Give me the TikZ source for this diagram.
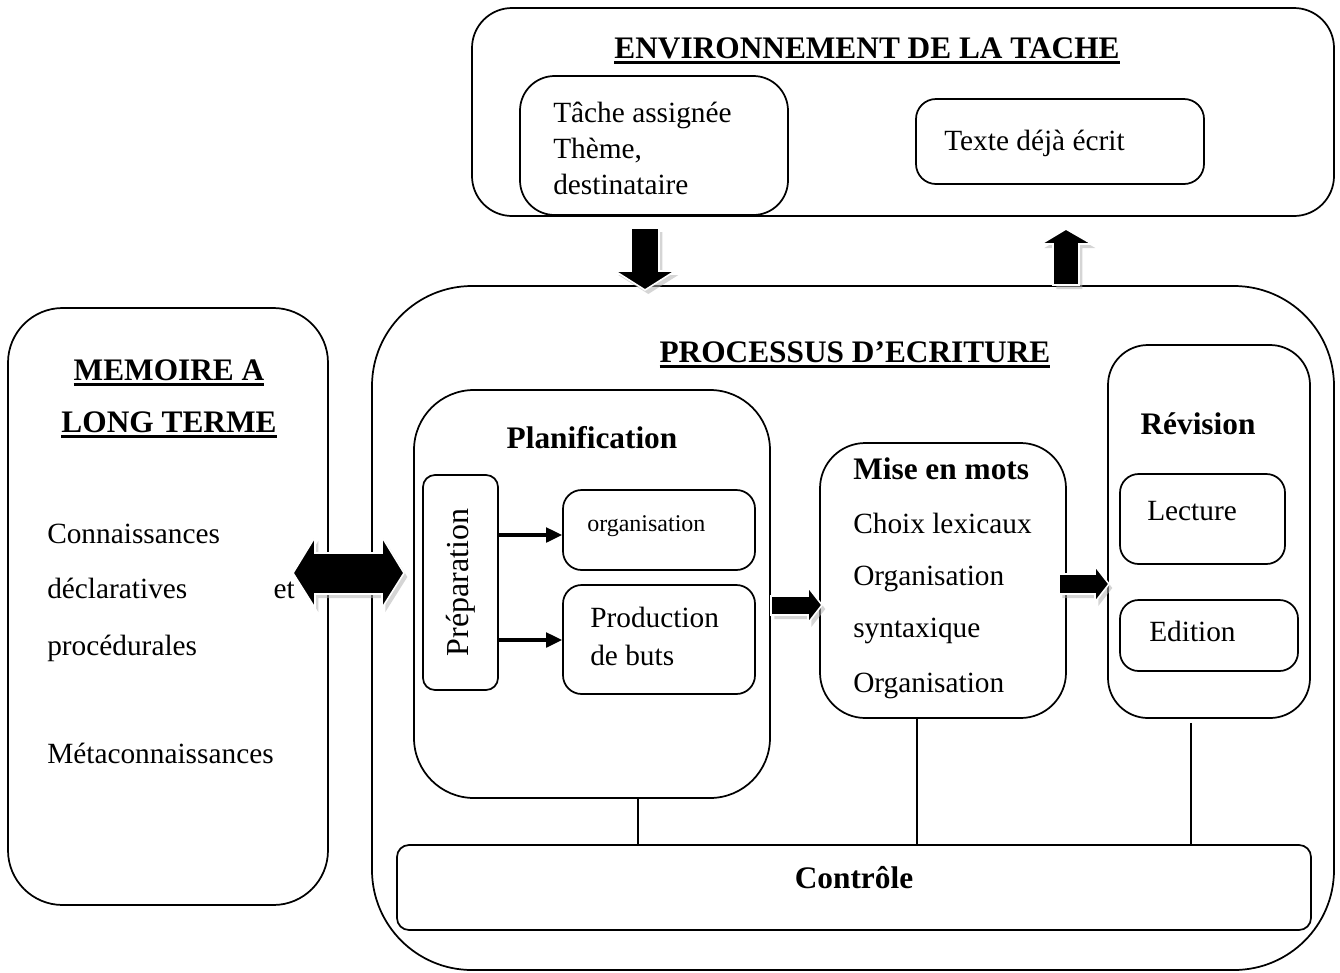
\documentclass[tikz,border=0pt]{standalone}
\usepackage{fontspec}
\setmainfont{Liberation Serif}
\usetikzlibrary{arrows.meta,shadows,fit}
\newcommand{\myul}[1]{\leavevmode\setbox0=\hbox{#1}\rlap{\rule[-4.8pt]{\wd0}{2.5pt}}\box0}
\begin{document}
\begin{tikzpicture}[x=0.75pt,y=-0.75pt,
  box/.style={draw, line width=1.3pt, rounded corners=#1, inner sep=0pt},
  box/.default=10pt,
  txt/.style={font=\fontsize{22}{26}\selectfont, inner sep=0pt, anchor=base west},
  ttl/.style={font=\bfseries\fontsize{23.5}{28}\selectfont, inner sep=0pt, anchor=base},
  blk/.style={fill=black, draw=white, line width=1.2pt,
    drop shadow={shadow xshift=2.5pt, shadow yshift=-3pt, fill=black!30, opacity=0.55}},
  link/.style={line width=0.9pt},
  parr/.style={line width=2.3pt, -{Triangle[length=12pt,width=11pt]}}
]
\useasboundingbox (0,0) rectangle (1340,972);

% boxes
\node (env) [box=30pt, fit={(472,8) (1334,216)}] {};
\node (tache) [box=26pt, fit={(520,76) (788,215)}] {};
\node (texte) [box=15pt, fit={(916,99) (1204,184)}] {};
\node (mem) [box=41pt, fit={(8,308) (328,905)}] {};
\node (proc) [box=75pt, fit={(372,286) (1334,970)}] {};
\node (planif) [box=45pt, fit={(414,390) (770,798)}] {};
\node (prep) [box=9pt, fit={(423,475) (498,690)}] {};
\node (org) [box=14pt, fit={(563,490) (755,570)}] {};
\node (prod) [box=14pt, fit={(563,585) (755,694)}] {};
\node (mise) [box=34pt, fit={(820,443) (1066,718)}] {};
\node (rev) [box=30pt, fit={(1108,345) (1310,718)}] {};
\node (lect) [box=14pt, fit={(1120,474) (1285,564)}] {};
\node (edit) [box=14pt, fit={(1120,600) (1298,671)}] {};
\node (ctrl) [box=9pt, fit={(397,845) (1311,930)}] {};

% texts
\node[ttl] (envt) at (867,58) {\myul{ENVIRONNEMENT DE LA TACHE}};
\node[txt] (t1) at (553,122) {Tâche assignée};
\node[txt] (t2) at (553,158) {Thème,};
\node[txt] (t3) at (553,194) {destinataire};
\node[txt] (t4) at (944,150) {Texte déjà écrit};

\node[ttl] (memt1) at (169,380) {\myul{MEMOIRE A}};
\node[ttl] (memt2) at (169,432) {\myul{LONG TERME}};
\node[txt] (m1) at (47,543) {Connaissances};
\node[txt] (m2) at (47,598) {déclaratives};
\node[txt, anchor=base east] (m2b) at (295,598) {et};
\node[txt] (m3) at (47,655) {procédurales};
\node[txt] (m4) at (47,763) {Métaconnaissances};

\node[ttl] (proct) at (855,362) {\myul{PROCESSUS D’ECRITURE}};
\node[ttl] (planift) at (592,448) {Planification};
\node[font=\fontsize{24}{28}\selectfont, rotate=90, inner sep=0pt] (prept) at (prep.center) {Préparation};
\node[txt, font=\fontsize{18}{22}\selectfont] (orgt) at (587,531) {organisation};
\node[txt] (prod1) at (590,627) {Production};
\node[txt] (prod2) at (590,665) {de buts};

\node[ttl, anchor=base west] (miset) at (853,479) {Mise en mots};
\node[txt] (mi1) at (853,533) {Choix lexicaux};
\node[txt] (mi2) at (853,585) {Organisation};
\node[txt] (mi3) at (853,637) {syntaxique};
\node[txt] (mi4) at (853,692) {Organisation};

\node[ttl] (revt) at (1198,434) {Révision};
\node[txt] (lectt) at (1147,520) {Lecture};
\node[txt] (editt) at (1149,641) {Edition};
\node[ttl] (ctrlt) at (854,888) {Contrôle};

% connectors
\coordinate (ya) at (0,535);
\coordinate (yb) at (0,640);
\draw[parr] (prep.east |- ya) -- (org.west |- ya);
\draw[parr] (prep.east |- yb) -- (prod.west |- yb);
\draw[link] ([xshift=34.5pt]planif.south) -- ([xshift=34.5pt]planif.south |- ctrl.north);
\draw[link] ([xshift=-19.5pt]mise.south) -- ([xshift=-19.5pt]mise.south |- ctrl.north);
\draw[link] ([xshift=-13.5pt,yshift=-3pt]rev.south) -- ([xshift=-13.5pt]rev.south |- ctrl.north);

% block arrows
\path[blk] (631,228) -- (659,228) -- (659,271) -- (675,271) -- (645,290) -- (615,271) -- (631,271) -- cycle;
\path[blk] (1053,285) -- (1079,285) -- (1079,244) -- (1092,244) -- (1066,229) -- (1041,244) -- (1053,244) -- cycle;
\path[blk] (293,573) -- (315,537) -- (315,553) -- (382,553) -- (382,537) -- (404,573) -- (382,608) -- (382,594) -- (315,594) -- (315,608) -- cycle;
\path[blk] (771,596) -- (808,596) -- (808,587) -- (822,605) -- (808,623) -- (808,615) -- (771,615) -- cycle;
\path[blk] (1059,574) -- (1095,574) -- (1095,566) -- (1109,584) -- (1095,602) -- (1095,594) -- (1059,594) -- cycle;
\end{tikzpicture}
\end{document}
